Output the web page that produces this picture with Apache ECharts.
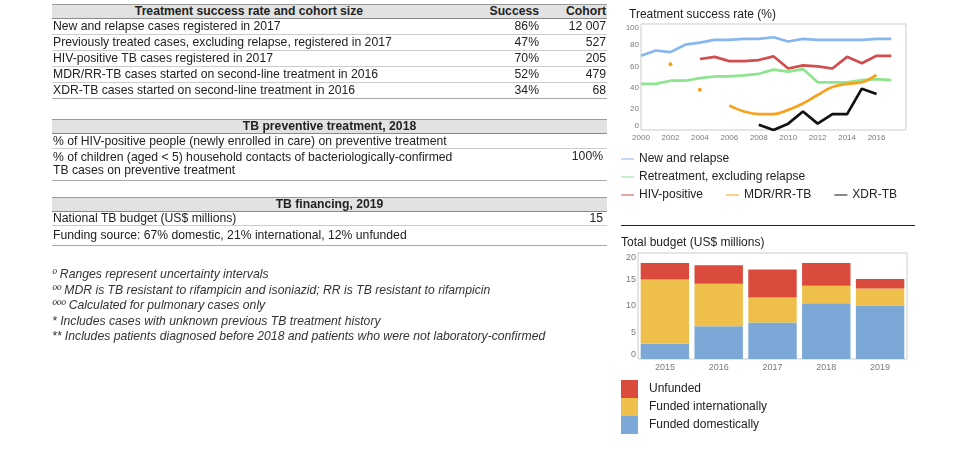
<!DOCTYPE html>
<html>
<head>
<meta charset="utf-8">
<script src="https://cdn.jsdelivr.net/npm/echarts/dist/echarts.min.js"></script>
<style>
  body { margin: 0; background: #fff; font-family: "Liberation Sans", Arial, sans-serif; color: #222; }
  #chart { position: absolute; left: 0; top: 0; width: 967px; height: 458px; }
  #tables { position: absolute; left: 0; top: 0; width: 967px; height: 458px; font-size: 12.2px; }
  .box { position: absolute; left: 52px; width: 555px; box-sizing: border-box; }
  .head { background: #e2e2e2; border-top: 1px solid #9a9a9a; border-bottom: 1px solid #8a8a8a; font-weight: bold; }
  .line { border-bottom: 1px solid #cccccc; }
  .last { border-bottom: 1px solid #a8a8a8; }
  .txt { position: absolute; white-space: nowrap; }
  .notes { position: absolute; left: 52px; top: 267px; font-size: 12.2px; font-style: italic; line-height: 15.5px; color: #333; }
</style>
</head>
<body>
<div id="chart"></div>
<div id="tables"></div>
<script>
// line chart: treatment success rate (%)
const years = [2000, 2001, 2002, 2003, 2004, 2005, 2006, 2007, 2008, 2009, 2010, 2011, 2012, 2013, 2014, 2015, 2016, 2017];
const newRelapse = [70, 75, 73.5, 80.5, 82.5, 85, 85, 86, 86, 87.5, 83.5, 86, 85, 85, 85, 85, 86, 86];
const retreatment = [43.5, 43.5, 46.5, 46.5, 49, 50.5, 50.5, 51.5, 53, 57, 55, 57.5, 45, 45, 45, 47, 48, 47];
const hivPositive = [null, null, null, null, 67, 69, 65, 65, 66, 69.5, 58, 61, 60, 58, 69, 63, 70, 70];
const mdrRr = [null, null, 62, null, 38, null, 23, 17.5, 15, 15, 19, 25, 33, 40.5, 43.5, 45, 52, null];
const xdr = [null, null, null, null, null, null, null, null, 5, 0, 6, 17.5, 6, 15, 15, 39, 34, null];

// bar chart: total budget (US$ millions)
const budgetYears = ['2015', '2016', '2017', '2018', '2019'];
const fundedDomestic = [2.9, 6.2, 6.9, 10.5, 10.1];
const fundedIntl = [12.1, 8.0, 4.7, 3.3, 3.2];
const unfunded = [3.1, 3.5, 5.3, 4.3, 1.8];

// tables
const successHead = ['Treatment success rate and cohort size', 'Success', 'Cohort'];
const successRows = [
  ['New and relapse cases registered in 2017', '86%', '12 007'],
  ['Previously treated cases, excluding relapse, registered in 2017', '47%', '527'],
  ['HIV-positive TB cases registered in 2017', '70%', '205'],
  ['MDR/RR-TB cases started on second-line treatment in 2016', '52%', '479'],
  ['XDR-TB cases started on second-line treatment in 2016', '34%', '68']
];
const preventiveHead = 'TB preventive treatment, 2018';
const preventiveRows = [
  ['% of HIV-positive people (newly enrolled in care) on preventive treatment', ''],
  ['% of children (aged < 5) household contacts of bacteriologically-confirmed<br>TB cases on preventive treatment', '100%']
];
const financingHead = 'TB financing, 2019';
const financingRows = [
  ['National TB budget (US$ millions)', '15'],
  ['Funding source: 67% domestic, 21% international, 12% unfunded', '']
];
const footnotes = [
  'º Ranges represent uncertainty intervals',
  'ºº MDR is TB resistant to rifampicin and isoniazid; RR is TB resistant to rifampicin',
  'ººº Calculated for pulmonary cases only',
  '* Includes cases with unknown previous TB treatment history',
  '** Includes patients diagnosed before 2018 and patients who were not laboratory-confirmed'
];

const tables = document.getElementById('tables');

function box(cls, top, height) {
  const d = document.createElement('div');
  d.className = 'box ' + cls;
  d.style.top = top + 'px';
  d.style.height = height + 'px';
  tables.appendChild(d);
  return d;
}
function txt(parent, html, css) {
  const s = document.createElement('div');
  s.className = 'txt';
  s.innerHTML = html;
  Object.assign(s.style, css);
  parent.appendChild(s);
}

// table 1
let h = box('head', 4, 15);
txt(h, successHead[0], { left: '0px', width: '394px', textAlign: 'center', top: '0px', lineHeight: '13px' });
txt(h, successHead[1], { right: '68px', top: '0px', lineHeight: '13px' });
txt(h, successHead[2], { right: '1px', top: '0px', lineHeight: '13px' });
successRows.forEach((r, i) => {
  const b = box(i === successRows.length - 1 ? 'last' : 'line', 19 + i * 16, 16);
  txt(b, r[0], { left: '1px', top: '0px', lineHeight: '14px' });
  txt(b, r[1], { right: '68px', top: '0px', lineHeight: '14px' });
  txt(b, r[2], { right: '1px', top: '0px', lineHeight: '14px' });
});

// table 2
h = box('head', 119, 15);
txt(h, preventiveHead, { left: '0px', width: '555px', textAlign: 'center', top: '0px', lineHeight: '13px' });
let b = box('line', 134, 15);
txt(b, preventiveRows[0][0], { left: '1px', top: '0px', lineHeight: '14px' });
b = box('last', 149, 32);
txt(b, preventiveRows[1][0], { left: '1px', top: '2px', lineHeight: '12.5px' });
txt(b, preventiveRows[1][1], { right: '4px', top: '1px', lineHeight: '13px' });

// table 3
h = box('head', 197, 15);
txt(h, financingHead, { left: '0px', width: '555px', textAlign: 'center', top: '0px', lineHeight: '13px' });
b = box('line', 212, 14);
txt(b, financingRows[0][0], { left: '1px', top: '0px', lineHeight: '13px' });
txt(b, financingRows[0][1], { right: '4px', top: '0px', lineHeight: '13px' });
b = box('last', 226, 20);
txt(b, financingRows[1][0], { left: '1px', top: '2px', lineHeight: '14px' });

const notes = document.createElement('div');
notes.className = 'notes';
notes.innerHTML = footnotes.join('<br>');
tables.appendChild(notes);

// charts
const chart = echarts.init(document.getElementById('chart'));

function isolated(arr, i) {
  return arr[i] != null && arr[i - 1] == null && arr[i + 1] == null;
}
function lineSeries(name, vals, color, smooth) {
  return {
    name: name,
    type: 'line',
    xAxisIndex: 0,
    yAxisIndex: 0,
    data: years.map((y, i) => [y, vals[i] == null ? '-' : vals[i]]),
    smooth: smooth || false,
    showSymbol: true,
    showAllSymbol: true,
    symbol: (v, p) => isolated(vals, p.dataIndex) ? 'circle' : 'none',
    symbolSize: 4,
    color: color,
    itemStyle: { color: color },
    lineStyle: { color: color, width: 2.7 },
    emphasis: { disabled: true }
  };
}

const axisText = { color: '#7a7a7a', fontSize: 8, fontFamily: 'Liberation Sans' };
const legendText = { color: '#222', fontSize: 12, fontFamily: 'Liberation Sans' };

chart.setOption({
  animation: false,
  textStyle: { fontFamily: 'Liberation Sans' },
  title: [
    { text: 'Treatment success rate (%)', left: 629, top: 9, padding: 0,
      textStyle: { fontSize: 12, fontWeight: 'normal', color: '#222' } },
    { text: 'Total budget (US$ millions)', left: 621, top: 237, padding: 0,
      textStyle: { fontSize: 12, fontWeight: 'normal', color: '#222' } }
  ],
  legend: [
    { data: ['New and relapse'], left: 621, top: 153, padding: 0, icon: 'rect',
      itemWidth: 13, itemHeight: 1, textStyle: legendText },
    { data: ['Retreatment, excluding relapse'], left: 621, top: 171, padding: 0, icon: 'rect',
      itemWidth: 13, itemHeight: 1, textStyle: legendText },
    { data: ['HIV-positive', 'MDR/RR-TB', 'XDR-TB'], left: 621, top: 189, padding: 0, icon: 'rect',
      itemWidth: 13, itemHeight: 1, itemGap: 23, textStyle: legendText },
    { data: ['Unfunded', 'Funded internationally', 'Funded domestically'], orient: 'vertical',
      left: 621, top: 380, padding: 0, icon: 'rect', itemWidth: 17, itemHeight: 18, itemGap: 0,
      textStyle: Object.assign({ padding: [2, 0, 0, 6] }, legendText) }
  ],
  grid: [
    { left: 641, top: 24, width: 265, height: 106, show: true, borderColor: '#cccccc', borderWidth: 1 },
    { left: 638, top: 253, width: 269, height: 106, show: true, borderColor: '#cccccc', borderWidth: 1 }
  ],
  xAxis: [
    { gridIndex: 0, type: 'value', min: 2000, max: 2018, interval: 2,
      axisLine: { show: false }, axisTick: { show: false }, splitLine: { show: false },
      axisLabel: Object.assign({ margin: 4, showMaxLabel: false, formatter: v => String(v) }, axisText) },
    { gridIndex: 1, type: 'category', data: budgetYears,
      axisLine: { show: false }, axisTick: { show: false }, splitLine: { show: false },
      axisLabel: Object.assign({}, axisText, { fontSize: 9, margin: 4 }) }
  ],
  yAxis: [
    { gridIndex: 0, type: 'value', min: 0, max: 100, interval: 20,
      axisLine: { show: false }, axisTick: { show: false }, splitLine: { show: false },
      axisLabel: Object.assign({ margin: 2, verticalAlignMaxLabel: 'top', verticalAlignMinLabel: 'bottom' }, axisText) },
    { gridIndex: 1, type: 'value', min: 0, max: 20, interval: 5,
      axisLine: { show: false }, axisTick: { show: false }, splitLine: { show: false },
      axisLabel: Object.assign({}, axisText, { fontSize: 9, margin: 2, verticalAlignMaxLabel: 'top', verticalAlignMinLabel: 'bottom' }) }
  ],
  graphic: [
    { type: 'line', shape: { x1: 621, y1: 225.5, x2: 915, y2: 225.5 },
      style: { stroke: '#222', lineWidth: 1 }, silent: true }
  ],
  series: [
    lineSeries('New and relapse', newRelapse, '#87b7ef'),
    lineSeries('Retreatment, excluding relapse', retreatment, '#8fe58f'),
    lineSeries('HIV-positive', hivPositive, '#d24d4d'),
    lineSeries('MDR/RR-TB', mdrRr, '#f6a21e', 0.4),
    lineSeries('XDR-TB', xdr, '#111111'),
    { name: 'Funded domestically', type: 'bar', stack: 'budget', xAxisIndex: 1, yAxisIndex: 1,
      data: fundedDomestic, barCategoryGap: '10%', itemStyle: { color: '#7ba8d6' }, emphasis: { disabled: true } },
    { name: 'Funded internationally', type: 'bar', stack: 'budget', xAxisIndex: 1, yAxisIndex: 1,
      data: fundedIntl, barCategoryGap: '10%', itemStyle: { color: '#eec04b' }, emphasis: { disabled: true } },
    { name: 'Unfunded', type: 'bar', stack: 'budget', xAxisIndex: 1, yAxisIndex: 1,
      data: unfunded, barCategoryGap: '10%', itemStyle: { color: '#da4b3d' }, emphasis: { disabled: true } }
  ]
});
</script>
</body>
</html>
